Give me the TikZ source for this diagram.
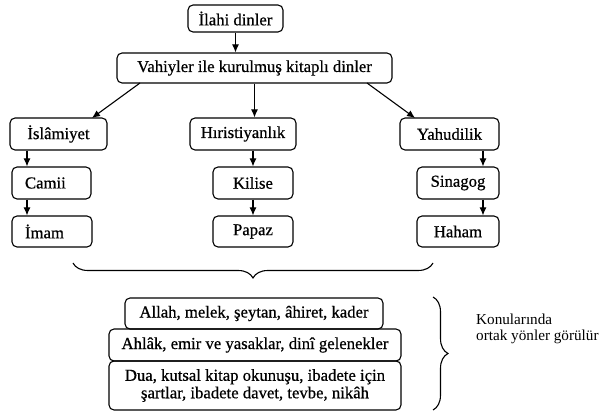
\documentclass[tikz,border=0pt]{standalone}
\usepackage{fontspec}
\setmainfont{Liberation Serif}
\newfontfamily\dfont[FakeBold=0.6]{Liberation Serif}
\usetikzlibrary{arrows.meta,calc,decorations.pathreplacing}
\tikzset{
  box/.style={draw, line width=1.1pt, rounded corners=5pt, inner sep=0pt, align=center,
    font=\dfont\fontsize{16.7}{17.5}\selectfont},
  arr/.style={line width=1.1pt, -{Latex[length=8pt,width=7pt]}},
  brc/.style={line width=1.1pt, decorate, decoration={brace, amplitude=15pt}},
}
\begin{document}
\begin{tikzpicture}[x=1pt,y=-1pt]
\useasboundingbox[fill=white] (0,0) rectangle (614,414);
% top
\node[box, minimum width=95pt, minimum height=27pt] (ilahi) at (235.5,18.5) {İlahi dinler};
\node[box, minimum width=275pt, minimum height=30pt] (vah) at (254.5,68) {Vahiyler ile kurulmuş kitaplı dinler};
% columns
\node[box, minimum width=97pt, minimum height=32pt] (isl) at (58.5,134) {İslâmiyet};
\node[box, minimum width=79pt, minimum height=32pt, text width=53pt, inner xsep=13pt, align=left] (camii) at (51.5,183) {Camii};
\node[box, minimum width=80pt, minimum height=31pt, text width=54pt, inner xsep=13pt, align=left] (imam) at (52,231.5) {İmam};
\node[box, minimum width=106pt, minimum height=32pt] (hir) at (243,134) {Hıristiyanlık};
\node[box, minimum width=80pt, minimum height=32pt] (kil) at (253,183) {Kilise};
\node[box, minimum width=80pt, minimum height=31pt] (pap) at (253,231.5) {Papaz};
\node[box, minimum width=99pt, minimum height=32pt] (yah) at (449.5,134) {Yahudilik};
\node[box, minimum width=82pt, minimum height=32pt] (sin) at (458,183) {Sinagog};
\node[box, minimum width=82pt, minimum height=31pt] (hah) at (458,231.5) {Haham};
% arrow helper coordinates
\coordinate (xl) at (27,0);
\coordinate (xr) at (483,0);
\coordinate (vl) at (140,83);
\coordinate (vr) at (367,83);
\coordinate (il) at (92,118);
\coordinate (yr) at (415,118);
% arrows
\draw[arr] (ilahi.south) -- (ilahi.south |- vah.north);
\draw[arr] (vl) -- (il);
\draw[arr] (vah.south) -- (vah.south |- hir.north);
\draw[arr] (vr) -- (yr);
\draw[arr] (xl |- isl.south) -- (xl |- camii.north);
\draw[arr] (xl |- camii.south) -- (xl |- imam.north);
\draw[arr] (kil.north |- hir.south) -- (kil.north);
\draw[arr] (kil.south) -- (pap.north);
\draw[arr] (xr |- yah.south) -- (xr |- sin.north);
\draw[arr] (xr |- sin.south) -- (xr |- hah.north);
% horizontal brace
\coordinate (hb1) at (73,263);
\coordinate (hb2) at (433,263);
\draw[brc, decoration={mirror}] (hb1) -- (hb2);
% bottom boxes
\node[box, minimum width=258pt, minimum height=31pt] (b1) at (254,313.5) {Allah, melek, şeytan, âhiret, kader};
\node[box, minimum width=292pt, minimum height=32pt] (b2) at (255,345) {Ahlâk, emir ve yasaklar, dinî gelenekler};
\node[box, minimum width=292pt, minimum height=49pt] (b3) at (255,385.5) {Dua, kutsal kitap okunuşu, ibadete için\\şartlar, ibadete davet, tevbe, nikâh};
% right brace
\coordinate (rb1) at (433,297);
\coordinate (rb2) at (433,410);
\draw[brc] (rb1) -- (rb2);
\node[anchor=north west, inner sep=0pt, align=left, font=\rmfamily\fontsize{15.2}{15.5}\selectfont] (txt) at (476,314) {Konularında\\ortak yönler görülür};
\end{tikzpicture}
\end{document}
